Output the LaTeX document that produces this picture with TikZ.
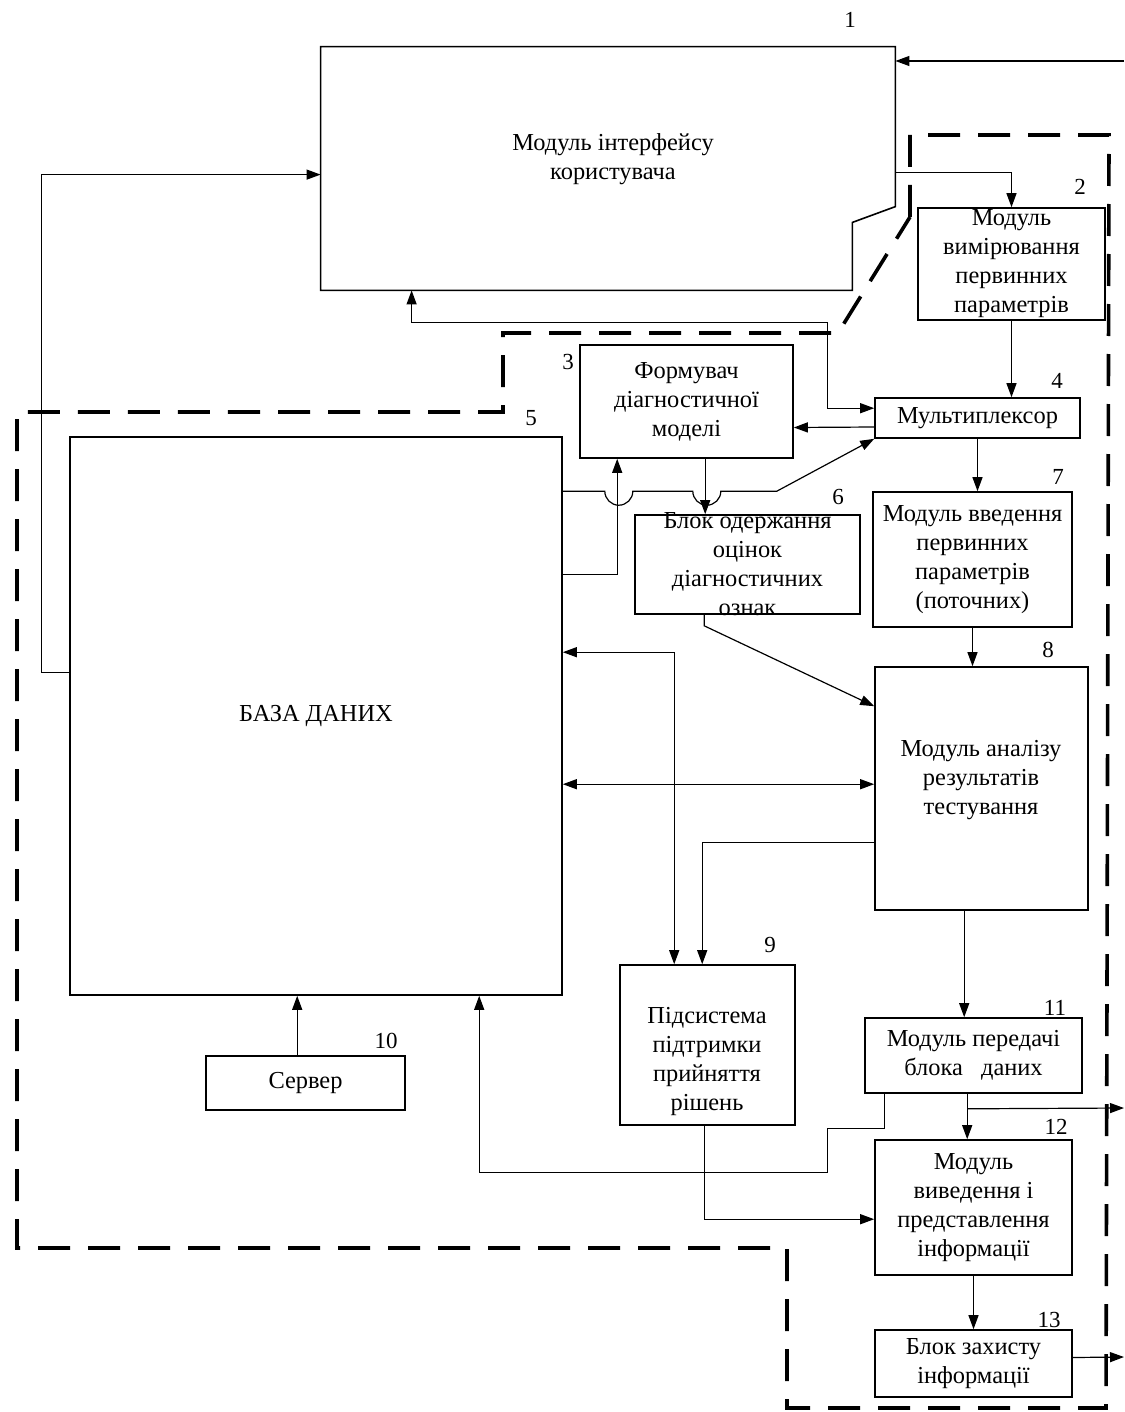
\documentclass[tikz,border=0pt]{standalone}
\usepackage{fontspec}
\setmainfont{Liberation Serif}
\usetikzlibrary{arrows.meta,calc,fit}

\begin{document}
\begin{tikzpicture}[x=0.5pt,y=-0.5pt]
\tikzstyle{every node}+=[inner sep=0pt,font=\fontsize{12.2}{14.5}\selectfont]
\tikzstyle{blk}=[draw,line width=0.8pt]
\tikzstyle{txt}=[align=center]
\tikzstyle{num}=[font=\fontsize{11.5}{13}\selectfont]
\tikzstyle{arr}=[-{Triangle[length=7pt,width=5pt]},line width=0.6pt]
\tikzstyle{arrb}=[{Triangle[length=7pt,width=5pt]}-{Triangle[length=7pt,width=5pt]},line width=0.6pt]
\tikzstyle{bound}=[line width=1.8pt,dash pattern=on 16pt off 9pt]
\useasboundingbox (0,0) rectangle (1124,1412);
\node[fit={(321,47)(895,290)}] (b1) {};
\draw[line width=0.8pt] (b1.north west) -- (b1.north east) -- ++(0,160) -- ($(b1.south east)+(-43,-68)$) -- ++(0,68) -- (b1.south west) -- cycle;
\node[txt] (t1) at (613,159) {Модуль інтерфейсу\\користувача};
\node[blk,fit={(918,208)(1105,320)}] (b2) {};
\node[txt] (t2) at (b2) {Модуль\\вимірювання\\первинних\\параметрів};
\node[blk,fit={(580,345)(793,458)}] (b3) {};
\node[txt] (t3) at (b3) {Формувач\\діагностичної\\моделі};
\node[blk,fit={(875,398)(1080,438)}] (b4) {};
\node[txt] (t4) at (b4) {Мультиплексор};
\node[blk,fit={(70,437)(562,995)}] (b5) {};
\node[txt] (t5) at (b5) {БАЗА ДАНИХ};
\node[blk,fit={(635,515)(860,614)}] (b6) {};
\node[txt] (t6) at (b6) {Блок одержання\\оцінок\\діагностичних\\ознак};
\node[blk,fit={(873,492)(1072,627)}] (b7) {};
\node[txt] (t7) at (b7) {Модуль введення\\первинних\\параметрів\\(поточних)};
\node[blk,fit={(875,667)(1088,910)}] (b8) {};
\node[txt] (t8) at (981,780) {Модуль аналізу\\результатів\\тестування};
\node[blk,fit={(620,965)(795,1125)}] (b9) {};
\node[txt] (t9) at (707,1062) {Підсистема\\підтримки\\прийняття\\рішень};
\node[blk,fit={(206,1056)(405,1110)}] (b10) {};
\node[txt] (t10) at (b10) {Сервер};
\node[blk,fit={(865,1018)(1082,1093)}] (b11) {};
\node[txt] (t11) at (b11) {Модуль передачі\\блока\ \ \ даних};
\node[blk,fit={(875,1140)(1072,1275)}] (b12) {};
\node[txt] (t12) at (b12) {Модуль\\виведення і\\представлення\\інформації};
\node[blk,fit={(875,1330)(1072,1397)}] (b13) {};
\node[txt] (t13) at (b13) {Блок захисту\\інформації};
\node[num] (n1) at (850,20) {1};
\node[num] (n2) at (1080,187) {2};
\node[num] (n3) at (568,362) {3};
\node[num] (n4) at (1057,381) {4};
\node[num] (n5) at (531,418) {5};
\node[num] (n6) at (838,497) {6};
\node[num] (n7) at (1058,477) {7};
\node[num] (n8) at (1048,650) {8};
\node[num] (n9) at (770,945) {9};
\node[num] (n10) at (386,1041) {10};
\node[num] (n11) at (1055,1008) {11};
\node[num] (n12) at (1056,1127) {12};
\node[num] (n13) at (1049,1320) {13};
\coordinate (in1) at (1124,61);
\coordinate (out1) at (1124,1108);
\coordinate (out2) at (1124,1357);
\draw[bound] (910,217) -- (910,135) -- (1109,135) -- (1106,1408) -- (787,1408) -- (787,1248) -- (17,1248) -- (17,412) -- (503,412) -- (503,333) -- (838,333) -- cycle;
\draw[arr] (in1) -- (in1 -| b1.east);
\draw[arr] ($(b5.north west)+(0,236)$) -- ++(-28,0) |- ($(b1.north west)+(0,128)$);
\draw[arr] ($(b1.north east)+(0,126)$) -| (b2.north);
\draw[arr] (b2.south) -- (b2.south |- b4.north);
\draw[arrb] ($(b1.south west)+(91,0)$) -- ++(0,32) -| ($(b4.north west)+(-47,11)$) -- ($(b4.north west)+(0,11)$);
\draw[arr] ($(b4.west)+(0,9)$) -- ($(b3.east)+(0,26)$);
\draw[arr] ($(b3.south west)+(126,0)$) -- ($(b6.north west)+(71,0)$);
\draw[arr] ($(b5.north east)+(0,138)$) -| ($(b3.south west)+(38,0)$);
\draw[arr] ($(b5.north east)+(0,55)$) -- ++(42,0) arc[start angle=180,end angle=360,radius=7pt] -- ++(60,0) arc[start angle=180,end angle=360,radius=7pt] -- ++(56,0) -- (b4.south west);
\draw[arr] (b4.south) -- (b4.south |- b7.north);
\draw[arr] (b7.south) -- (b7.south |- b8.north);
\draw[arr] ($(b6.south west)+(70,0)$) -- ++(0,11) -- ($(b8.north west)+(0,40)$);
\draw[arrb] ($(b5.north east)+(0,216)$) -| ($(b9.north west)+(55,0)$);
\draw[arrb] ($(b5.north east)+(0,348)$) -- ($(b8.north west)+(0,118)$);
\draw[arr] ($(b8.north west)+(0,176)$) -| ($(b9.north west)+(83,0)$);
\draw[arr] ($(b8.south west)+(90,0)$) -- ($(b11.north west)+(100,0)$);
\draw[arr] ($(b11.south west)+(103,0)$) -- ($(b12.north west)+(93,0)$);
\draw[arr] ($(b11.south west)+(103,15)$) -- (out1);
\draw[arr] ($(b11.south west)+(20,0)$) -- ++(0,35) -- ++(-57,0) -- ++(0,44) -| ($(b5.south west)+(410,0)$);
\draw[arr] ($(b9.south west)+(85,0)$) |- ($(b12.north west)+(0,80)$);
\draw[arr] ($(b10.north west)+(92,0)$) -- ($(b5.south west)+(228,0)$);
\draw[arr] (b12.south) -- (b12.south |- b13.north);
\draw[arr] ($(b13.east)+(0,-6)$) -- (out2);
\end{tikzpicture}
\end{document}
